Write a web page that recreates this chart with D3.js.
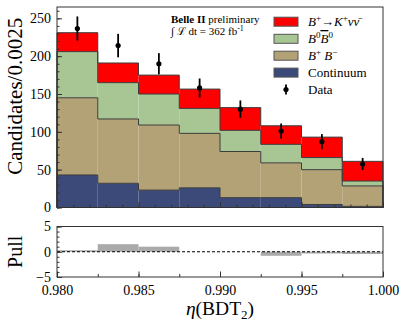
<!DOCTYPE html>
<html>
<head>
<meta charset="utf-8">
<script src="https://cdn.jsdelivr.net/npm/d3@7"></script>
<style>
  body { margin: 0; background: #fff; }
  svg { display: block; }
  svg text { font-family: "Liberation Serif", "DejaVu Serif", serif; }
</style>
</head>
<body>
<div id="chart"></div>
<script>

const binLo = [0.980, 0.9825, 0.985, 0.9875, 0.990, 0.9925, 0.995, 0.9975];
const binHi = [0.9825, 0.985, 0.9875, 0.990, 0.9925, 0.995, 0.9975, 1.000];

// stacked components (per bin, not cumulative)
const continuum = [43, 32, 23, 26, 13, 13, 4, 1.5];
const bpbm = [102, 85, 86, 72, 61, 46, 46, 27];
const b0b0 = [61, 48, 41, 33, 28, 24.5, 16, 6.5];
const signal = [25, 26, 25, 25.5, 30, 24.5, 27, 26];

const dataY = [236.5, 214, 190, 158, 130, 101, 87, 57.5];
const dataErr = [16, 15.5, 14, 12.5, 11.5, 10, 10, 8];

const pull = [0.3, 1.5, 1.0, 0, 0, -0.8, -0.35, -0.45];

const xTicks = [0.980, 0.985, 0.990, 0.995, 1.000];
const yTicks = [0, 50, 100, 150, 200, 250];
const pullTicks = [-5, 0, 5];

const keys = ['cont', 'bpbm', 'b0b0', 'sig'];
const colors = { cont: '#3b4a78', bpbm: '#b4a277', b0b0: '#a8c594', sig: '#ff0000' };

const width = 407;
const height = 329;
const main = { left: 57, right: 383, top: 7, bottom: 207.5 };
const sub = { left: 57, right: 383, top: 226.5, bottom: 277 };
const serif = '"Liberation Serif", "DejaVu Serif", serif';

const svg = d3.select('#chart').append('svg')
  .attr('width', width)
  .attr('height', height);

const x = d3.scaleLinear().domain([0.98, 1.0]).range([main.left, main.right]);
const y = d3.scaleLinear().domain([0, 265]).range([main.bottom, main.top]);
const yp = d3.scaleLinear().domain([-5, 5]).range([sub.bottom, sub.top]);

const rows = binLo.map((lo, i) => ({
  lo, hi: binHi[i],
  cont: continuum[i], bpbm: bpbm[i], b0b0: b0b0[i], sig: signal[i]
}));
const series = d3.stack().keys(keys)(rows);

// filled histogram layers
const layers = svg.append('g');
series.forEach((s) => {
  layers.append('g').selectAll('rect')
    .data(s)
    .join('rect')
    .attr('x', (d) => x(d.data.lo))
    .attr('width', (d) => x(d.data.hi) - x(d.data.lo))
    .attr('y', (d) => y(d[1]))
    .attr('height', (d) => y(d[0]) - y(d[1]))
    .attr('fill', colors[s.key]);
});

function stepPoints(s) {
  const p = [[x(0.98), y(0)]];
  s.forEach((d) => {
    p.push([x(d.data.lo), y(d[1])]);
    p.push([x(d.data.hi), y(d[1])]);
  });
  p.push([x(1.0), y(0)]);
  return p;
}

// step outlines on top of each layer
series.forEach((s) => {
  layers.append('path')
    .attr('d', d3.line()(stepPoints(s)))
    .attr('fill', 'none')
    .attr('stroke', '#3c3c3c')
    .attr('stroke-width', 1);
});

// data points
const pts = svg.append('g');
pts.selectAll('line')
  .data(dataY)
  .join('line')
  .attr('x1', (d, i) => x((binLo[i] + binHi[i]) / 2))
  .attr('x2', (d, i) => x((binLo[i] + binHi[i]) / 2))
  .attr('y1', (d, i) => y(d - dataErr[i]))
  .attr('y2', (d, i) => y(d + dataErr[i]))
  .attr('stroke', '#000')
  .attr('stroke-width', 1.8);
pts.selectAll('circle')
  .data(dataY)
  .join('circle')
  .attr('cx', (d, i) => x((binLo[i] + binHi[i]) / 2))
  .attr('cy', (d) => y(d))
  .attr('r', 2.6)
  .attr('fill', '#000');

// pull panel
const pullG = svg.append('g');
pullG.selectAll('rect')
  .data(pull)
  .join('rect')
  .attr('x', (d, i) => x(binLo[i]))
  .attr('width', (d, i) => x(binHi[i]) - x(binLo[i]))
  .attr('y', (d) => yp(Math.max(d, 0)))
  .attr('height', (d) => Math.abs(yp(d) - yp(0)))
  .attr('fill', '#aaaaaa');
pullG.append('line')
  .attr('x1', x(0.98)).attr('x2', x(1.0))
  .attr('y1', yp(0)).attr('y2', yp(0))
  .attr('stroke', '#000')
  .attr('stroke-width', 1)
  .attr('stroke-dasharray', '3,2');

// axes (ticks pointing inward)
function styleAxis(g) {
  g.attr('font-family', null).attr('font-size', null);
  g.select('.domain').remove();
  g.selectAll('.tick line').attr('stroke', '#333');
  g.selectAll('.tick text')
    .attr('fill', '#000')
    .style('font-family', serif)
    .style('font-size', '14px');
}

svg.append('g')
  .attr('transform', `translate(${main.left},0)`)
  .call(d3.axisLeft(y).tickValues(d3.range(0, 261, 10)).tickSize(-2.5).tickFormat(''))
  .call(styleAxis);
svg.append('g')
  .attr('transform', `translate(${main.left},0)`)
  .call(d3.axisLeft(y).tickValues(yTicks).tickSize(-5).tickPadding(6).tickFormat(d3.format('d')))
  .call(styleAxis);

svg.append('g')
  .attr('transform', `translate(0,${main.bottom})`)
  .call(d3.axisBottom(x).tickValues(d3.range(0, 21).map((k) => 0.98 + k * 0.001)).tickSize(-3).tickFormat(''))
  .call(styleAxis);
svg.append('g')
  .attr('transform', `translate(0,${main.bottom})`)
  .call(d3.axisBottom(x).tickValues(xTicks).tickSize(-5.5).tickFormat(''))
  .call(styleAxis);

svg.append('g')
  .attr('transform', `translate(${sub.left},0)`)
  .call(d3.axisLeft(yp).tickValues(d3.range(-5, 6, 1)).tickSize(-2.5).tickFormat(''))
  .call(styleAxis);
svg.append('g')
  .attr('transform', `translate(${sub.left},0)`)
  .call(d3.axisLeft(yp).tickValues(pullTicks).tickSize(-5).tickPadding(6)
    .tickFormat((d) => (d < 0 ? '\u2212' + Math.abs(d) : d)))
  .call(styleAxis);

svg.append('g')
  .attr('transform', `translate(0,${sub.bottom})`)
  .call(d3.axisBottom(x).tickValues(d3.range(0, 9).map((k) => 0.98 + k * 0.0025)).tickSize(-3).tickFormat(''))
  .call(styleAxis);
svg.append('g')
  .attr('transform', `translate(0,${sub.bottom})`)
  .call(d3.axisBottom(x).tickValues(xTicks).tickSize(-5.5).tickPadding(8).tickFormat(d3.format('.3f')))
  .call(styleAxis);

// frames
[main, sub].forEach((f) => {
  svg.append('rect')
    .attr('x', f.left).attr('y', f.top)
    .attr('width', f.right - f.left).attr('height', f.bottom - f.top)
    .attr('fill', 'none')
    .attr('stroke', '#333')
    .attr('stroke-width', 1);
});

// axis labels
svg.append('text')
  .attr('transform', `translate(22,${(main.top + main.bottom) / 2 - 11}) rotate(-90)`)
  .attr('text-anchor', 'middle')
  .style('font-size', '21px')
  .text('Candidates/0.0025');

svg.append('text')
  .attr('transform', `translate(22,${(sub.top + sub.bottom) / 2}) rotate(-90)`)
  .attr('text-anchor', 'middle')
  .style('font-size', '20px')
  .text('Pull');

const xl = svg.append('text')
  .attr('x', 220).attr('y', 315)
  .attr('text-anchor', 'middle')
  .style('font-size', '19.5px');
xl.append('tspan').style('font-style', 'italic').text('\u03b7');
xl.append('tspan').text('(BDT');
xl.append('tspan').attr('dy', 4).style('font-size', '13px').text('2');
xl.append('tspan').attr('dy', -4).text(')');

// Belle II annotation
const t1 = svg.append('text').attr('x', 171).attr('y', 23).style('font-size', '11px');
t1.append('tspan').style('font-weight', 'bold').text('Belle II');
t1.append('tspan').text(' preliminary');
const t2 = svg.append('text').attr('x', 171).attr('y', 34.5).style('font-size', '11px');
t2.append('tspan').text('\u222B ');
t2.append('tspan').text('\u2112');
t2.append('tspan').text(' dt = 362 fb');
t2.append('tspan').attr('dy', -4).style('font-size', '8px').text('-1');

// legend
const legendItems = [
  { key: 'sig', y: 21.7 },
  { key: 'b0b0', y: 38.8 },
  { key: 'bpbm', y: 55.7 },
  { key: 'cont', y: 72.6 }
];
const lg = svg.append('g');
legendItems.forEach((it) => {
  lg.append('rect')
    .attr('x', 274).attr('y', it.y - 4.5)
    .attr('width', 24).attr('height', 9)
    .attr('fill', colors[it.key])
    .attr('stroke', '#555')
    .attr('stroke-width', 1);
});
lg.append('line')
  .attr('x1', 286).attr('x2', 286)
  .attr('y1', 84.5).attr('y2', 94.5)
  .attr('stroke', '#000').attr('stroke-width', 1.8);
lg.append('circle').attr('cx', 286).attr('cy', 89.5).attr('r', 2.6).attr('fill', '#000');

const lx = 308;
const l1 = lg.append('text').attr('x', lx).attr('y', 26).style('font-size', '13px');
l1.append('tspan').style('font-style', 'italic').text('B');
l1.append('tspan').attr('dy', -5).style('font-size', '9px').text('+');
l1.append('tspan').attr('dy', 5).text('\u2192');
l1.append('tspan').style('font-style', 'italic').text('K');
l1.append('tspan').attr('dy', -5).style('font-size', '9px').text('+');
l1.append('tspan').attr('dy', 5).style('font-style', 'italic').text('\u03bd\u03bd\u0304');

const l2 = lg.append('text').attr('x', lx).attr('y', 43).style('font-size', '13px');
l2.append('tspan').style('font-style', 'italic').text('B');
l2.append('tspan').attr('dy', -5).style('font-size', '9px').text('0');
l2.append('tspan').attr('dy', 5).style('font-style', 'italic').style('text-decoration', 'overline').text('B');
l2.append('tspan').attr('dy', -5).style('font-size', '9px').text('0');

const l3 = lg.append('text').attr('x', lx).attr('y', 60).style('font-size', '13px');
l3.append('tspan').style('font-style', 'italic').text('B');
l3.append('tspan').attr('dy', -5).style('font-size', '9px').text('+');
l3.append('tspan').attr('dy', 5).style('font-style', 'italic').text(' B');
l3.append('tspan').attr('dy', -5).style('font-size', '9px').text('\u2212');

lg.append('text').attr('x', lx).attr('y', 77).style('font-size', '13px').text('Continuum');
lg.append('text').attr('x', lx).attr('y', 94).style('font-size', '13px').text('Data');
</script>
</body>
</html>
